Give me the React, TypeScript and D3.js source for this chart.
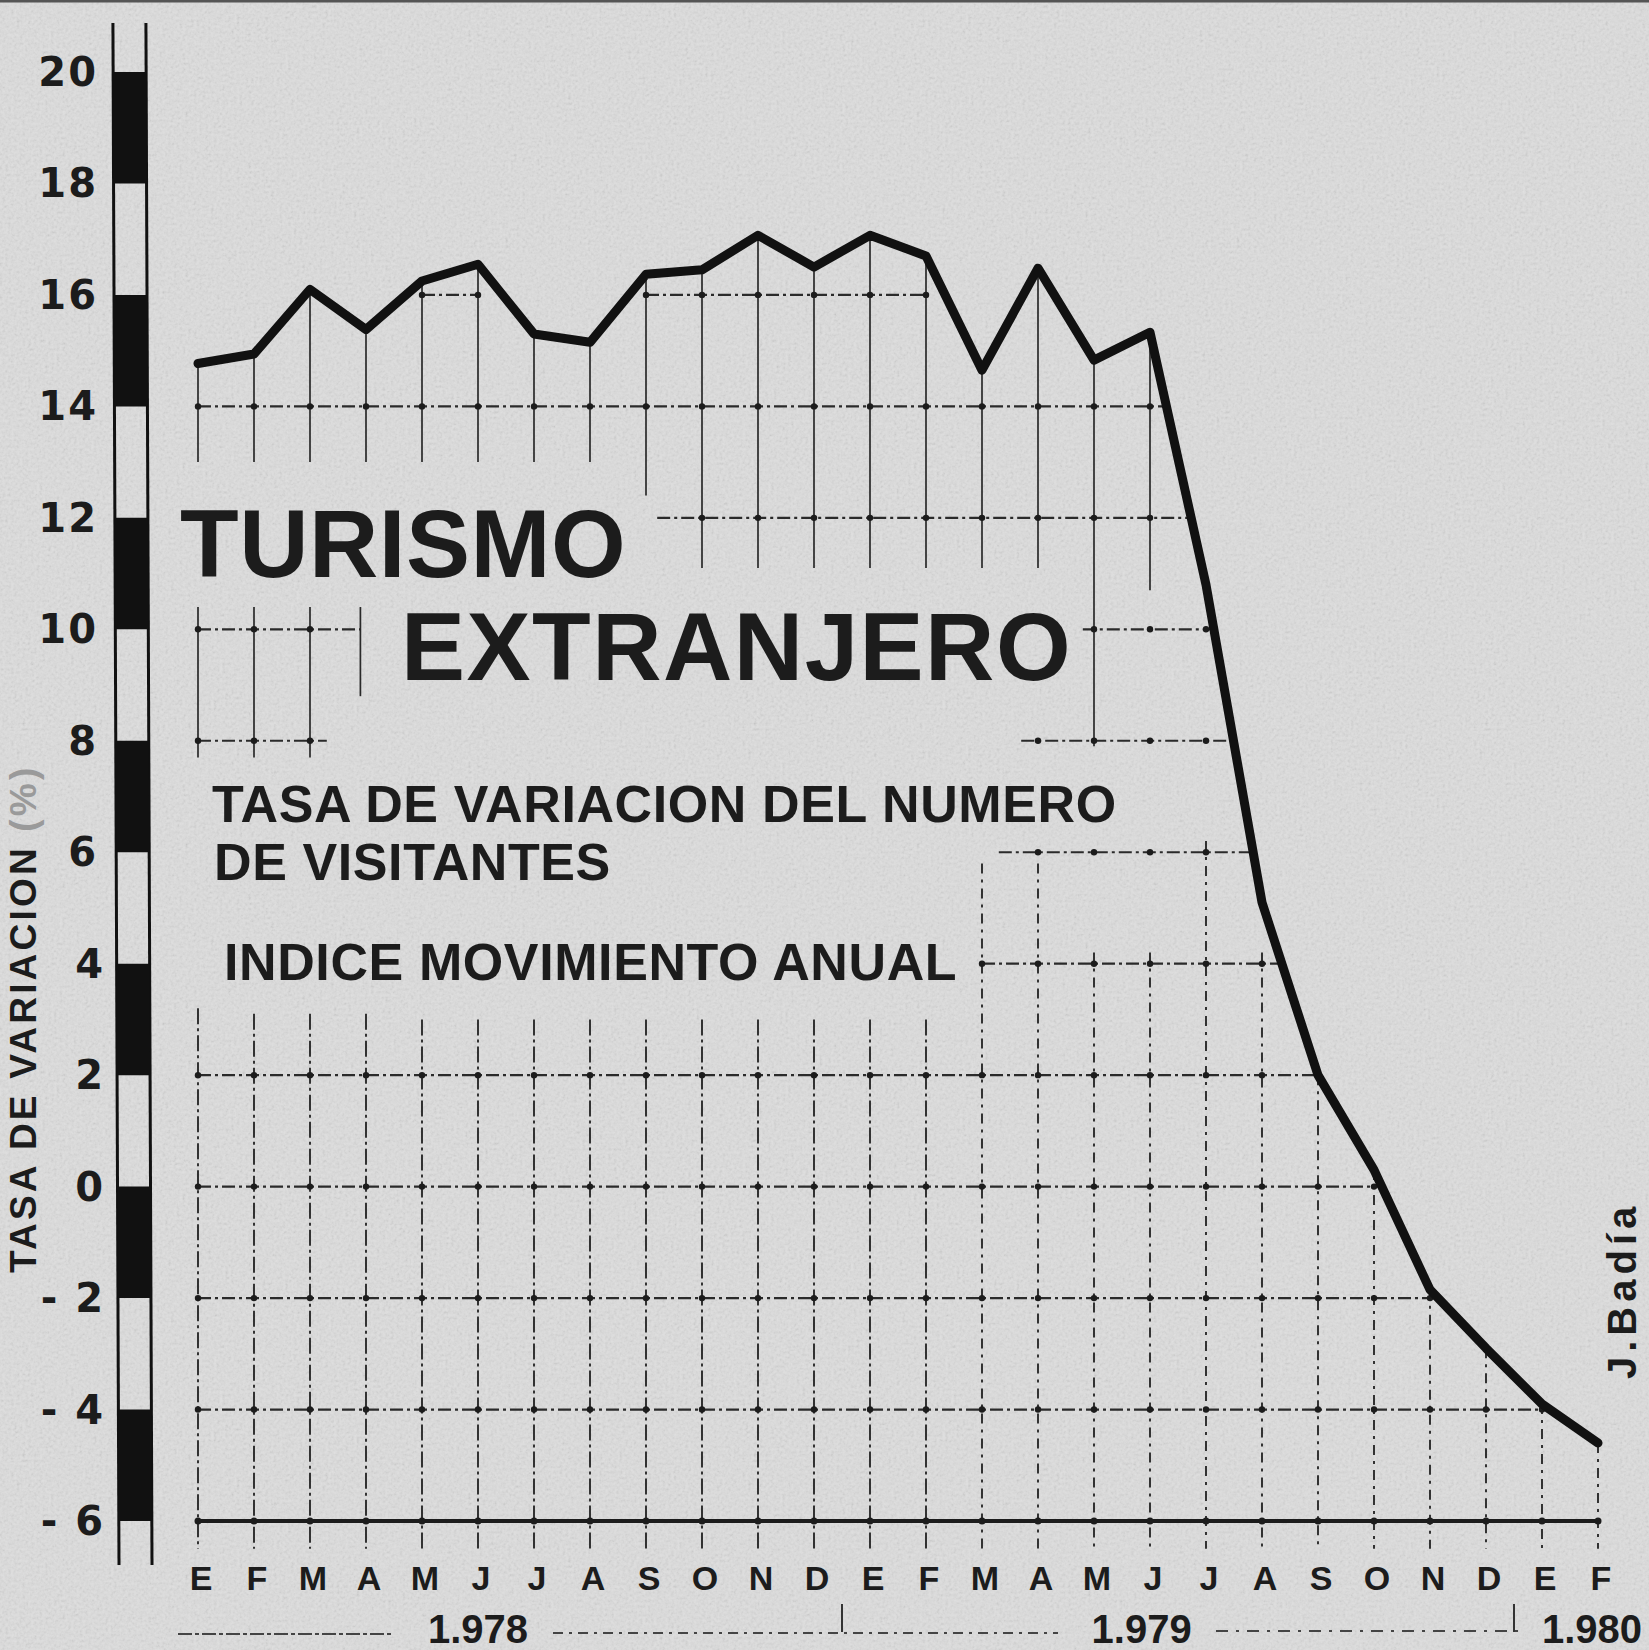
import React from "react";
import * as d3 from "d3";

const W = 1649;
const H = 1650;

// Months Jan 1978 .. Feb 1980 (Spanish initials)
const months = ["E","F","M","A","M","J","J","A","S","O","N","D","E","F","M","A","M","J","J","A","S","O","N","D","E","F"];
// Tasa de variación del número de visitantes (%)
const values = [14.77, 14.94, 16.1, 15.38, 16.25, 16.55, 15.3, 15.15, 16.37, 16.45, 17.07, 16.5, 17.07, 16.7, 14.65, 16.48, 14.83, 15.33, 10.8, 5.1, 2.0, 0.3, -1.85, -2.9, -3.9, -4.6];
const yTicks = [20, 18, 16, 14, 12, 10, 8, 6, 4, 2, 0, -2, -4, -6];
const years = [
  { label: "1.978", at: 5, anchor: "middle" },
  { label: "1.979", at: 16.85, anchor: "middle" },
  { label: "1.980", at: 24, anchor: "start" },
];
const yearTicks = [11.5, 23.5];

// background grid (hand drawn, partial)
const hGrid: { v: number; from: number; to: number | "line" }[] = [
  { v: 16, from: 4, to: 5 },
  { v: 16, from: 8, to: 13 },
  { v: 14, from: 0, to: "line" },
  { v: 12, from: 8.2, to: "line" },
  { v: 10, from: 0, to: 2.9 },
  { v: 8, from: 0, to: 2.3 },
  { v: 10, from: 15.8, to: "line" },
  { v: 8, from: 14.7, to: "line" },
  { v: 6, from: 14.3, to: "line" },
  { v: 4, from: 14, to: "line" },
  { v: 2, from: 0, to: "line" },
  { v: 0, from: 0, to: "line" },
  { v: -2, from: 0, to: "line" },
  { v: -4, from: 0, to: "line" },
];
const upperBottom = [13, 13, 13, 13, 13, 13, 13, 13, 12.4, 11.1, 11.1, 11.1, 11.1, 11.1, 11.1, 11.1, 7.9, 10.7];
const boxVerticals = [
  { i: 0, top: 10.4, bottom: 7.7 },
  { i: 1, top: 10.4, bottom: 7.7 },
  { i: 2, top: 10.4, bottom: 7.7 },
  { i: 2.9, top: 10.4, bottom: 8.8 },
];
const lowerTop = [3.2, 3.1, 3.1, 3.1, 3.0, 3.0, 3.0, 3.0, 3.0, 3.0, 3.0, 3.0, 3.0, 3.0, 5.8, 5.8, 4.2, 4.2, 6.2, 4.2, 2.0, 0.3, -1.85, -2.9, -3.9, -4.6];

const x = d3.scaleLinear().domain([0, 25]).range([198, 1598]);
const y = d3.scaleLinear().domain([-6, 20]).range([1521, 72]);

function crossIdx(v: number): number {
  for (let i = 17; i < values.length - 1; i++) {
    const a = values[i], b = values[i + 1];
    if (a >= v && b <= v) return i + (a - v) / (a - b);
  }
  return 25;
}

const ink = "#1c1c1c";

export default function App() {
  const line = d3.line<number>().x((_, i) => x(i)).y((d) => y(d)).curve(d3.curveLinear);

  // bar (black/white alternating scale) with slight print skew
  const barTop = 23, barBot = 1565;
  const skew = (yy: number) => ((yy - 40) / 1525) * 6;
  const bx0 = 113, bx1 = 146;
  const barSegs: JSX.Element[] = [];
  for (let k = 0; k < 13; k++) {
    const hi = 20 - 2 * k;
    const lo = hi - 2;
    if (k % 2 === 0) {
      const y0 = y(hi), y1 = y(lo);
      barSegs.push(
        <polygon key={"b" + k} fill="#111"
          points={`${bx0 + skew(y0)},${y0} ${bx1 + skew(y0)},${y0} ${bx1 + skew(y1)},${y1} ${bx0 + skew(y1)},${y1}`} />
      );
    }
  }

  const dots: JSX.Element[] = [];
  const hLines = hGrid.map((g, k) => {
    const to = g.to === "line" ? crossIdx(g.v) : g.to;
    for (let i = Math.ceil(g.from); i <= Math.floor(to); i++) {
      dots.push(<circle key={`d${k}-${i}`} cx={x(i)} cy={y(g.v)} r={3.2} fill={ink} />);
    }
    return (
      <line key={"h" + k} x1={x(g.from)} x2={x(to)} y1={y(g.v)} y2={y(g.v)}
        stroke="#2a2a2a" strokeWidth={2.2} strokeDasharray="13 4 3 4" />
    );
  });

  const upperV = upperBottom.map((b, i) => (
    <line key={"uv" + i} x1={x(i)} x2={x(i)} y1={y(values[i])} y2={y(b)} stroke="#2a2a2a" strokeWidth={1.7} />
  ));
  const boxV = boxVerticals.map((b, k) => (
    <line key={"bv" + k} x1={x(b.i)} x2={x(b.i)} y1={y(b.top)} y2={y(b.bottom)} stroke="#2a2a2a" strokeWidth={1.7} />
  ));
  const lowerV = lowerTop.map((t, i) => (
    <line key={"lv" + i} x1={x(i)} x2={x(i)} y1={y(t)} y2={y(-6.5)} stroke="#2a2a2a" strokeWidth={1.9}
      strokeDasharray={i < 14 ? "16 4 3 4" : "10 6 3 6"} />
  ));
  const baseDots = months.map((_, i) => <circle key={"bd" + i} cx={x(i)} cy={y(-6)} r={3.5} fill={ink} />);

  return (
    <svg width={W} height={H} style={{ position: "absolute", left: 0, top: 0 }} xmlns="http://www.w3.org/2000/svg">
      <defs>
        <filter id="grain" x="0" y="0" width="100%" height="100%">
          <feTurbulence type="fractalNoise" baseFrequency="0.35" numOctaves={2} seed={7} />
          <feColorMatrix type="saturate" values="0" />
        </filter>
      </defs>
      <rect x={0} y={0} width={W} height={H} fill="#dedede" />
      <rect x={0} y={0} width={W} height={H} filter="url(#grain)" opacity={0.3} />
      <line x1={0} x2={W} y1={1} y2={1} stroke="#555" strokeWidth={3} />

      {/* scale bar */}
      <line x1={bx0 + skew(barTop)} y1={barTop} x2={bx0 + skew(barBot)} y2={barBot} stroke="#111" strokeWidth={3} />
      <line x1={bx1 + skew(barTop)} y1={barTop} x2={bx1 + skew(barBot)} y2={barBot} stroke="#111" strokeWidth={3} />
      {barSegs}

      {/* y tick labels */}
      {yTicks.map((v) => (
        <text key={"yt" + v} x={v < 6 ? 105 : 98} y={y(v) + 14} textAnchor="end" fontFamily="DejaVu Sans" fontWeight="bold" fontSize={40} letterSpacing={2} fill={ink}>
          {v < 0 ? `- ${-v}` : `${v}`}
        </text>
      ))}

      {/* y axis title */}
      <text transform="translate(36,1273) rotate(-90)" fontFamily="Liberation Sans" fontWeight="bold" fontSize={37} letterSpacing={3.2} fill={ink}>
        TASA DE VARIACION <tspan fill="#9a9a9a">(%)</tspan>
      </text>

      {/* grid */}
      {upperV}
      {boxV}
      {lowerV}
      {hLines}
      {dots}
      <line x1={x(0)} x2={x(25)} y1={y(-6)} y2={y(-6)} stroke={ink} strokeWidth={4} />
      {baseDots}

      {/* titles */}
      <text x={180} y={577} fontFamily="Liberation Sans" fontWeight="bold" fontSize={96} fill={ink} letterSpacing={0.5}>TURISMO</text>
      <text x={401} y={680} fontFamily="Liberation Sans" fontWeight="bold" fontSize={96} fill={ink} letterSpacing={1.5}>EXTRANJERO</text>
      <text x={212} y={822} fontFamily="Liberation Sans" fontWeight="bold" fontSize={52} letterSpacing={0.6} fill={ink}>TASA DE VARIACION DEL NUMERO</text>
      <text x={214} y={880} fontFamily="Liberation Sans" fontWeight="bold" fontSize={52} letterSpacing={0.6} fill={ink}>DE VISITANTES</text>
      <text x={224} y={980} fontFamily="Liberation Sans" fontWeight="bold" fontSize={52} letterSpacing={0.6} fill={ink}>INDICE MOVIMIENTO ANUAL</text>

      {/* data line */}
      <path d={line(values) || ""} fill="none" stroke="#111" strokeWidth={9} strokeLinejoin="round" strokeLinecap="round" />

      {/* month labels */}
      {months.map((m, i) => (
        <text key={"m" + i} x={x(i) + 3} y={1590} textAnchor="middle" fontFamily="Liberation Sans" fontWeight="bold" fontSize={34} fill={ink}>{m}</text>
      ))}

      {/* year labels and separators */}
      <line x1={178} x2={392} y1={1634} y2={1634} stroke="#444" strokeWidth={2.2} strokeDasharray="14 3 4 3" />
      <line x1={553} x2={1058} y1={1633} y2={1633} stroke="#444" strokeWidth={2.2} strokeDasharray="10 6 3 6" />
      <line x1={1216} x2={1518} y1={1631} y2={1631} stroke="#444" strokeWidth={2.2} strokeDasharray="12 8 3 8" />
      {yearTicks.map((t) => (
        <line key={"yk" + t} x1={x(t)} x2={x(t)} y1={1604} y2={1632} stroke="#333" strokeWidth={2} />
      ))}
      {years.map((yr) => (
        <text key={yr.label} x={x(yr.at)} y={1643} textAnchor={yr.anchor as any} fontFamily="Liberation Sans" fontWeight="bold" fontSize={40} fill={ink}>{yr.label}</text>
      ))}

      {/* author */}
      <text transform="translate(1636,1379) rotate(-90)" fontFamily="Liberation Sans" fontWeight="bold" fontSize={40} letterSpacing={5} fill={ink}>J.Badía</text>
    </svg>
  );
}
